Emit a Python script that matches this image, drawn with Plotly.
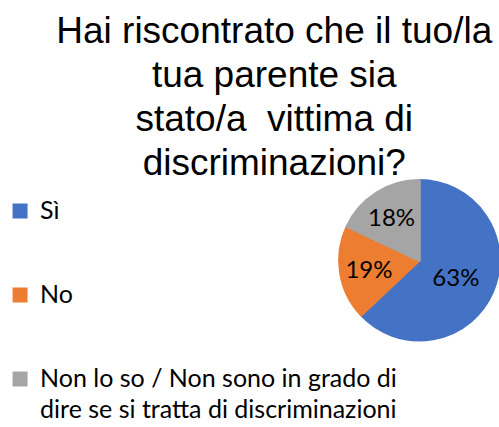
import plotly.graph_objects as go

# Data
categories = ["Sì", "No", "Non lo so / Non sono in grado di dire se si tratta di discriminazioni"]
values = [63, 19, 18]
colors = ["#4472C4", "#ED7D31", "#A5A5A5"]
title_lines = ["Hai riscontrato che il tuo/la", "tua parente sia", "stato/a \u00a0vittima di", "discriminazioni?"]

LEG_GLYPH = 25
TITLE_GLYPH = 37

def span(t, size):
    return f"<span style='font-size:{size}px'>{t}</span>"

# legend labels (wrapped / padded to mimic the original spacing)
legend_labels = [
    span(categories[0], LEG_GLYPH) + "<br> <br> ",
    span(categories[1], LEG_GLYPH) + "<br> <br> ",
    span("Non lo so / Non sono in grado di", LEG_GLYPH)
    + "<br><sub>" + span("dire se si tratta di discriminazioni", LEG_GLYPH) + "</sub>",
]

title_text = "<br>".join(span(t, TITLE_GLYPH) for t in title_lines)

W, H = 499, 427
x0 = 338
cy = 261.5
r = (W - x0) / 2

fig = go.Figure(go.Pie(
    labels=legend_labels,
    values=values,
    sort=False,
    direction="clockwise",
    rotation=0,
    marker=dict(colors=colors, line=dict(color=colors, width=3)),
    textinfo="percent",
    textposition="inside",
    insidetextorientation="horizontal",
    textfont=dict(family="Lato", size=24, color="black"),
    domain=dict(x=[x0 / W, 1], y=[(H - cy - r - 4) / H, (H - cy + r + 4) / H]),
    hoverinfo="percent",
))

fig.update_layout(
    width=W, height=H,
    margin=dict(l=0, r=0, t=0, b=0),
    paper_bgcolor="white",
    plot_bgcolor="white",
    showlegend=True,
    uniformtext=dict(minsize=24, mode="show"),
    title=dict(
        text=title_text,
        x=272 / W, xanchor="center", xref="paper",
        y=1 - 43 / H, yanchor="top", yref="paper",
        font=dict(family="Liberation Sans, Arial", size=33.9, color="black"),
    ),
    legend=dict(
        x=-0.01, xanchor="left",
        y=1 - 192 / H, yanchor="top",
        valign="top",
        font=dict(family="Lato", size=20.77, color="black"),
        bgcolor="rgba(0,0,0,0)",
        traceorder="normal",
    ),
)

fig.write_html(
    "out.html",
    config={"displayModeBar": False},
    post_script="document.body.style.margin='0';document.body.style.overflow='hidden';",
)
